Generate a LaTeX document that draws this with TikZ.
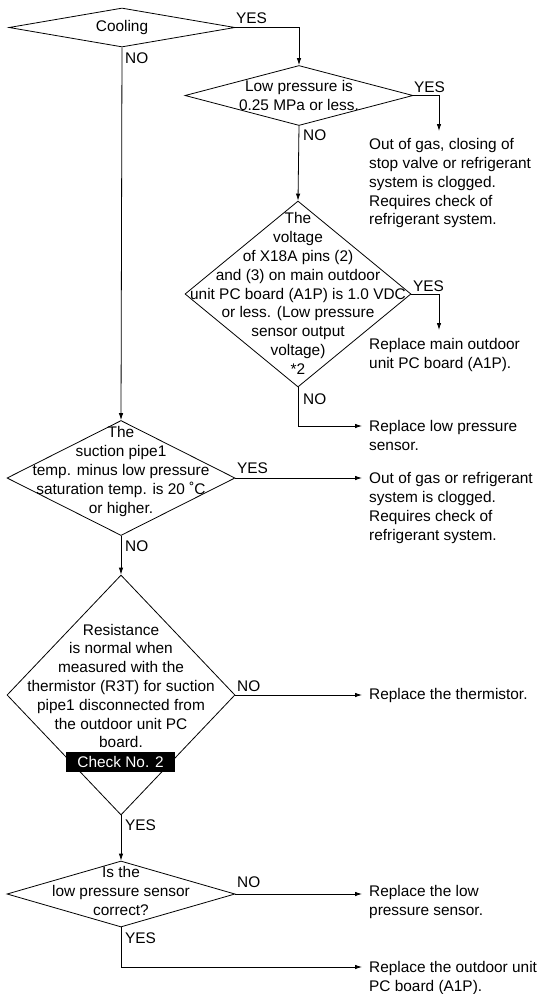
\documentclass[tikz,border=0pt]{standalone}
\usepackage{fontspec}
\setmainfont{Liberation Sans}
\usetikzlibrary{shapes.geometric,arrows.meta}
\newcommand\dgfont{\fontsize{15.4}{18.8}\selectfont}
\begin{document}
\begin{tikzpicture}[x=1pt,y=-1pt,
  dia/.style={draw,diamond,inner sep=0pt,line width=0.8pt},
  dtxt/.style={inner sep=0pt,align=center,font=\dgfont},
  rtxt/.style={inner sep=0pt,align=left,font=\dgfont,anchor=north west},
  lab/.style={inner sep=0pt,font=\dgfont,anchor=west},
  arr/.style={line width=0.8pt,-{Latex[length=7pt,width=4.5pt]}}]
\useasboundingbox (0,0) rectangle (545,994);

% diamonds
\node[dia,minimum width=226pt,minimum height=39pt] (d1) at (122,27.5) {};
\node[dtxt] (d1t) at (122,28) {Cooling};

\node[dia,minimum width=228pt,minimum height=60pt] (d2) at (299,95.5) {};
\node[dtxt] (d2t) at (299,95.5) {Low pressure is\\0.25 MPa or less.};

\node[dia,minimum width=226pt,minimum height=186pt] (d3) at (298,294) {};
\node[dtxt] (d3t) at (298,293.5) {The\\voltage\\of X18A pins (2)\\and (3) on main outdoor\\unit PC board (A1P) is 1.0 VDC\\or less. (Low pressure\\sensor output\\voltage)\\*2};

\node[dia,minimum width=228pt,minimum height=115pt] (d4) at (121,478) {};
\node[dtxt] (d4t) at (121,471.5) {The\\suction pipe1\\temp. minus low pressure\\saturation temp. is 20 ˚C\\or higher.};

\node[dia,minimum width=228pt,minimum height=240pt] (d5) at (121,695) {};
\node[dtxt] (d5t) at (121,686) {Resistance\\is normal when\\measured with the\\thermistor (R3T) for suction\\pipe1 disconnected from\\the outdoor unit PC\\board.};
\node[fill=black,text=white,inner sep=0pt,minimum width=109pt,minimum height=20pt,font=\dgfont] (chk) at (120.5,762) {Check No. 2};

\node[dia,minimum width=228pt,minimum height=66pt] (d6) at (121,894) {};
\node[dtxt] (d6t) at (121,891) {Is the\\low pressure sensor\\correct?};

% result texts
\node[rtxt] (t2) at (369,138.3) {Out of gas, closing of\\stop valve or refrigerant\\system is clogged.\\Requires check of\\refrigerant system.};
\node[rtxt] (t3) at (369,338.3) {Replace main outdoor\\unit PC board (A1P).};
\node[rtxt] (t4) at (369,420.3) {Replace low pressure\\sensor.};
\node[rtxt] (t5) at (369,472.3) {Out of gas or refrigerant\\system is clogged.\\Requires check of\\refrigerant system.};
\node[rtxt] (t6) at (369,688.3) {Replace the thermistor.};
\node[rtxt] (t7) at (369,885.3) {Replace the low\\pressure sensor.};
\node[rtxt] (t8) at (369,961.3) {Replace the outdoor unit\\PC board (A1P).};

% arrow end points
\coordinate (e2) at (439,131);
\coordinate (e3) at (439,330);
\coordinate (e4) at (362,426);
\coordinate (e5) at (362,478);
\coordinate (e6) at (362,695);
\coordinate (e7) at (362,894);
\coordinate (e8) at (362,967);

% connectors
\draw[arr] (d1.east) -| (d2.north);
\draw[arr] (d2.east) -| (e2);
\draw[arr] (d2.south) -- (d3.north);
\draw[arr] (d3.east) -| (e3);
\draw[arr] (d3.south) |- (e4);
\draw[arr] (d1.south) -- (d4.north);
\draw[arr] (d4.east) -- (e5);
\draw[arr] (d4.south) -- (d5.north);
\draw[arr] (d5.east) -- (e6);
\draw[arr] (d5.south) -- (d6.north);
\draw[arr] (d6.east) -- (e7);
\draw[arr] (d6.south) |- (e8);

% labels
\node[lab] (y1) at (236,18) {YES};
\node[lab] (n1) at (125,58) {NO};
\node[lab] (y2) at (414,87) {YES};
\node[lab] (n2) at (303,135) {NO};
\node[lab] (y3) at (413,286) {YES};
\node[lab] (n3) at (303,399) {NO};
\node[lab] (y4) at (237,468) {YES};
\node[lab] (n4) at (125,546) {NO};
\node[lab] (n5) at (237,686) {NO};
\node[lab] (y5) at (125,825) {YES};
\node[lab] (n6) at (237,882) {NO};
\node[lab] (y6) at (125,938) {YES};
\end{tikzpicture}
\end{document}
